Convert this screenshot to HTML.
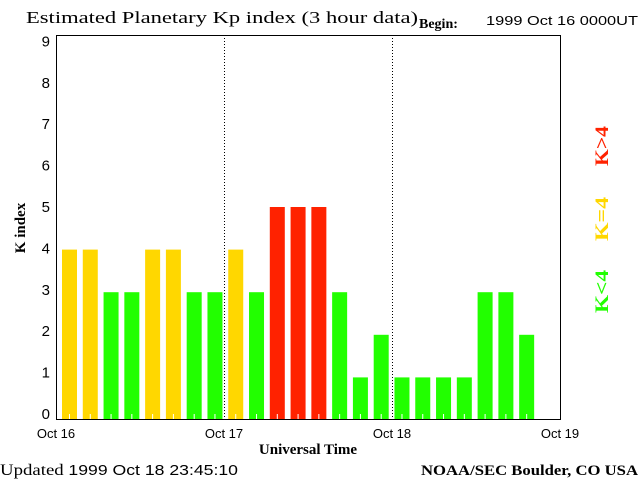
<!DOCTYPE html>
<html><head><meta charset="utf-8"><style>
body{margin:0;background:#fff;width:640px;height:480px;overflow:hidden}
svg text{font-family:"Liberation Sans",sans-serif}
.serif{font-family:"Liberation Serif",serif}
</style></head><body>
<svg id="chart" width="640" height="480" xmlns="http://www.w3.org/2000/svg">
<text class="serif" x="26" y="23" font-size="17" textLength="392" lengthAdjust="spacingAndGlyphs" fill="#000">Estimated Planetary Kp index (3 hour data)</text>
<text class="serif" x="419" y="28" font-size="14" font-weight="bold">Begin:</text>
<text x="486" y="25" font-size="13" textLength="152" lengthAdjust="spacingAndGlyphs">1999 Oct 16 0000UT</text>
<g id="bars"></g>
<g id="yaxis"></g>
<g id="xaxis"></g>
<rect x="56.5" y="35.5" width="504" height="384" fill="none" stroke="#000"/>
<text class="serif" transform="translate(25,228) rotate(-90)" text-anchor="middle" font-size="15" font-weight="bold">K index</text>
<text class="serif" x="308" y="454" text-anchor="middle" font-size="15" font-weight="bold">Universal Time</text>
<text class="serif" x="0" y="475" font-size="16" textLength="238" lengthAdjust="spacingAndGlyphs">Updated <tspan font-family="Liberation Sans" font-size="15">1999 Oct 18 23:45:10</tspan></text>
<text class="serif" x="421" y="475" font-size="15" font-weight="bold" textLength="217" lengthAdjust="spacingAndGlyphs">NOAA/SEC Boulder, CO USA</text>
<text class="serif" transform="translate(608,166) rotate(-90)" font-size="19" font-weight="bold" fill="#ff2200" textLength="40" lengthAdjust="spacingAndGlyphs">K&gt;4</text>
<text class="serif" transform="translate(608,241) rotate(-90)" font-size="19" font-weight="bold" fill="#ffd700" textLength="44" lengthAdjust="spacingAndGlyphs">K=4</text>
<text class="serif" transform="translate(608,313) rotate(-90)" font-size="19" font-weight="bold" fill="#22ff00" textLength="43" lengthAdjust="spacingAndGlyphs">K&lt;4</text>
</svg>
<script>
const kValues=[4,4,3,3,4,4,3,3,4,3,5,5,5,3,1,2,1,1,1,1,3,3,2];
const yTicks=[0,1,2,3,4,5,6,7,8,9];
const dayLabels=["Oct 16","Oct 17","Oct 18","Oct 19"];
const NS='http://www.w3.org/2000/svg';
const x0=56,x1=560,y0=420,unit=42.6,step=20.78;
const xs=i=>x0+6+i*step;
const ys=v=>y0-v*unit;
const yl=v=>419-v*41.4;
function mk(tag,attrs,parent){const e=document.createElementNS(NS,tag);for(const k in attrs)e.setAttribute(k,attrs[k]);parent.appendChild(e);return e;}
const bars=document.getElementById('bars');
kValues.forEach((v,i)=>{
  const col=v>4?'#ff2200':(v===4?'#ffd700':'#22ff00');
  const r=mk('rect',{x:xs(i),y:ys(v),width:15,height:y0-ys(v),fill:col},bars);
  
  
  const t=mk('line',{x1:xs(i)+7.5,x2:xs(i)+7.5,y1:y0-6,y2:y0,stroke:'#fff'},bars);
  
  
});
const ya=document.getElementById('yaxis');
yTicks.forEach(v=>{
  const t=mk('text',{x:50,y:yl(v),'text-anchor':'end','font-size':'15'},ya);
  t.textContent=v;
  
  
});
const xa=document.getElementById('xaxis');
dayLabels.forEach((d,i)=>{
  const x=x0+(x1-x0)*i/3;
  const t=mk('text',{x:x,y:438,'text-anchor':'middle','font-size':'13'},xa);
  t.textContent=d;
  
  
  if(i>0&&i<3){
    const l=mk('line',{x1:x+0.5,x2:x+0.5,y1:35,y2:420,stroke:'#000','stroke-dasharray':'1,2'},xa);
    
    
  }
});
</script>
</body></html>
